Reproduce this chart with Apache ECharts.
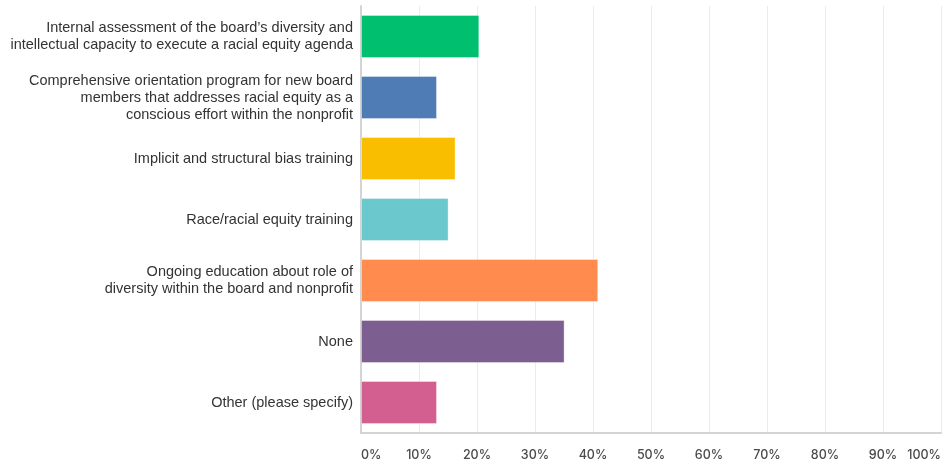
<!DOCTYPE html>
<html>
<head>
<meta charset="utf-8">
<script src="https://cdn.jsdelivr.net/npm/echarts@6/dist/echarts.min.js"></script>
<style>
  html, body { margin: 0; padding: 0; background: #fff; }
  #chart { width: 944px; height: 465px; }
</style>
</head>
<body>
<div id="chart"></div>
<script>
// Survey answer options, top to bottom
const categories = [
  "Internal assessment of the board\u2019s diversity and\nintellectual capacity to execute a racial equity agenda",
  "Comprehensive orientation program for new board\nmembers that addresses racial equity as a\nconscious effort within the nonprofit",
  "Implicit and structural bias training",
  "Race/racial equity training",
  "Ongoing education about role of\ndiversity within the board and nonprofit",
  "None",
  "Other (please specify)"
];

// Share of respondents (%)
const values = [20.4, 13.1, 16.3, 15.1, 40.9, 35.1, 13.1];

// Bar colours, one per answer
const barColors = ["#00bf6f", "#507cb6", "#f9be00", "#6bc8cd", "#ff8b4f", "#7d5e90", "#d25f90"];

// Tick values along the percentage axis
const tickValues = [0, 10, 20, 30, 40, 50, 60, 70, 80, 90, 100];

const chart = echarts.init(document.getElementById("chart"), null, { renderer: "canvas" });

chart.setOption({
  animation: false,
  grid: { left: 361, right: 1, top: 6, bottom: 32, containLabel: false },
  xAxis: {
    type: "value",
    min: tickValues[0],
    max: tickValues[tickValues.length - 1],
    interval: 10,
    axisLine: { show: true, lineStyle: { color: "#d4d4d4", width: 2 } },
    axisTick: { show: false },
    splitLine: { show: true, lineStyle: { color: "#ebebeb", width: 1 } },
    axisLabel: {
      formatter: v => v + "%",
      color: "#4a4a4a",
      fontSize: 12.5,
      fontWeight: 500,
      fontFamily: "Inter, 'Noto Sans', sans-serif",
      margin: 16,
      alignMinLabel: "left",
      alignMaxLabel: "right"
    }
  },
  yAxis: {
    type: "category",
    inverse: true,
    data: categories,
    axisLine: { show: true, lineStyle: { color: "#d4d4d4", width: 2 } },
    axisTick: { show: false },
    axisLabel: {
      color: "#333",
      fontSize: 14.5,
      lineHeight: 17,
      fontFamily: "'Liberation Sans', Arial, sans-serif",
      margin: 8,
      align: "right"
    }
  },
  series: [{
    type: "bar",
    barWidth: 43,
    data: values.map((v, i) => ({
      value: v,
      itemStyle: { color: barColors[i], borderColor: "rgba(255,255,255,0.35)", borderWidth: 1 }
    }))
  }]
});
</script>
</body>
</html>
